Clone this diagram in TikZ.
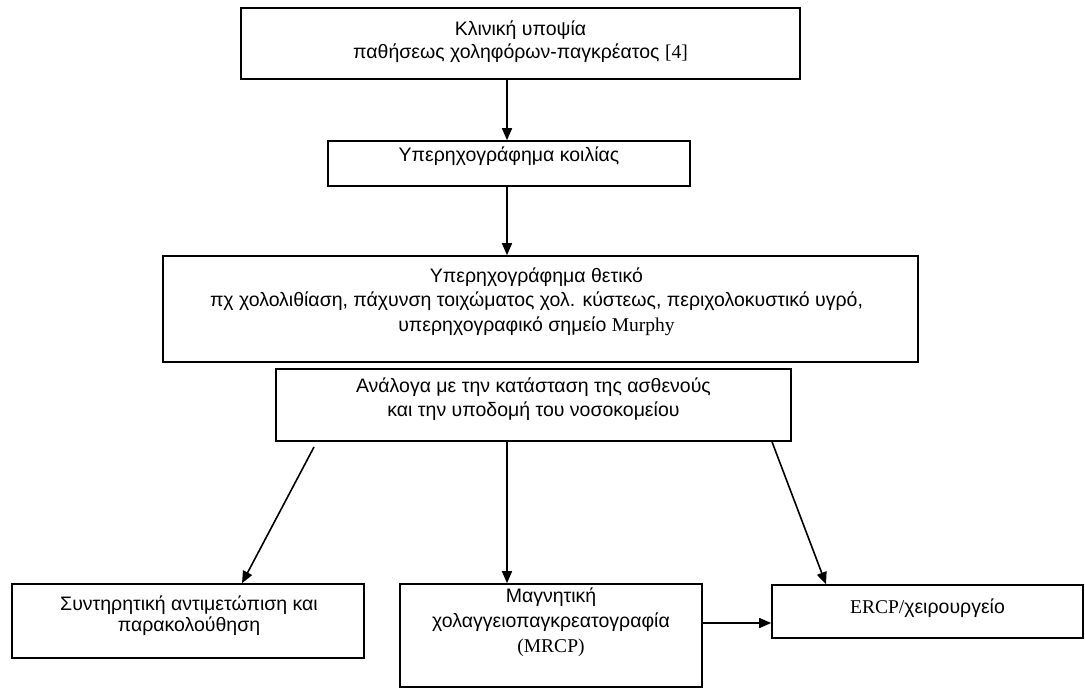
\documentclass[tikz,border=0pt]{standalone}
\usepackage{fontspec}
\setmainfont{Liberation Sans}
\newfontfamily\tnr{Liberation Serif}
\usetikzlibrary{arrows.meta,calc}
\tikzset{
  box/.style={draw, line width=1.6pt, inner sep=0pt},
  txt/.style={align=center, inner sep=0pt, anchor=north,
    font=\fontsize{19.5}{#1}\selectfont},
  txt/.default=24,
  arr/.style={line width=1.6pt, -{Triangle[length=12pt,width=10pt]}}
}
\begin{document}
\begin{tikzpicture}[x=1pt,y=-1pt]
\useasboundingbox (0,0) rectangle (1085,688);
% boxes
\node[box, minimum width=559pt, minimum height=71pt] (B1) at (520.5,43.5) {};
\node[box, minimum width=362pt, minimum height=45pt] (B2) at (509,163.5) {};
\node[box, minimum width=755pt, minimum height=106pt] (B3) at (540.5,309) {};
\node[box, minimum width=515pt, minimum height=72pt] (B4) at (533.5,405) {};
\node[box, minimum width=352pt, minimum height=74pt] (B5) at (188,621) {};
\node[box, minimum width=302pt, minimum height=103pt] (B6) at (551,635.5) {};
\node[box, minimum width=311pt, minimum height=53pt] (B7) at (927.5,611.5) {};
% texts (north anchor = first baseline - 0.7 baselineskip)
\node[txt=23.3] (T1) at ($(B1.north)+(0,11.4)$) {\strut Κλινική υποψία\\παθήσεως χοληφόρων-παγκρέατος {\tnr [4]}};
\node[txt] (T2) at ($(B2.north)+(0,4.2)$) {\strut Υπερηχογράφημα κοιλίας};
\node[txt=24.5] (T3) at ($(B3.north)+(-4,9.9)$) {\strut Υπερηχογράφημα θετικό\\πχ χολολιθίαση, πάχυνση τοιχώματος χολ. κύστεως, περιχολοκυστικό υγρό,\\υπερηχογραφικό σημείο {\tnr Murphy}};
\node[txt] (T4) at ($(B4.north)+(0,7.2)$) {\strut Ανάλογα με την κατάσταση της ασθενούς\\και την υποδομή του νοσοκομείου};
\node[txt=21.5] (T5) at ($(B5.north)+(1,12)$) {\strut Συντηρητική αντιμετώπιση και\\παρακολούθηση};
\node[txt=25] (T6) at ($(B6.north)+(0,1.5)$) {\strut Μαγνητική\\χολαγγειοπαγκρεατογραφία\\{\tnr (MRCP)}};
\node[txt] (T7) at ($(B7.north)+(0,12.2)$) {\strut{\tnr ERCP/}χειρουργείο};
% connector coordinates
\coordinate (x1) at (507,0);
\coordinate (s4) at (314,447);
\coordinate (e5) at (242,0);
\coordinate (s7) at (772,0);
\coordinate (e7) at (826,0);
\coordinate (yh) at (0,623);
% connectors
\draw[arr] (B1.south -| x1) -- (B2.north -| x1);
\draw[arr] (B2.south -| x1) -- (B3.north -| x1);
\draw[arr] (s4) -- (B5.north -| e5);
\draw[arr] (B4.south -| x1) -- (B6.north -| x1);
\draw[arr] (B4.south -| s7) -- (B7.north -| e7);
\draw[arr] (B6.east |- yh) -- (B7.west |- yh);
\end{tikzpicture}
\end{document}
